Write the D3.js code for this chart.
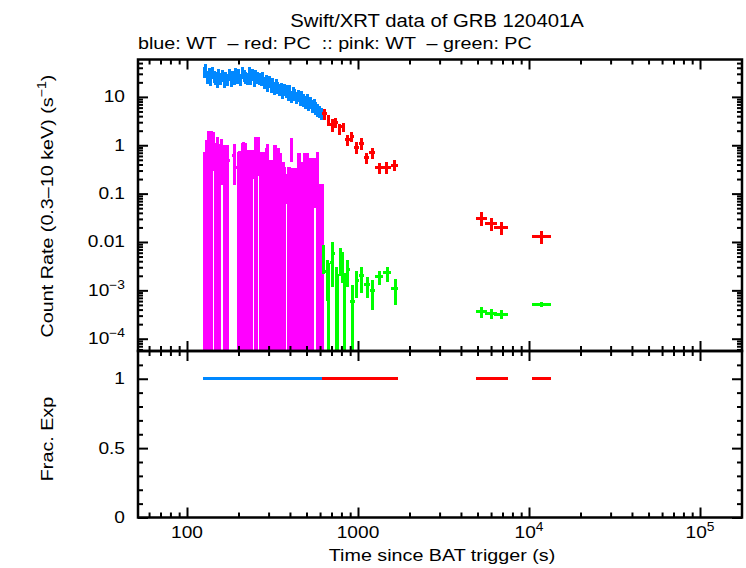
<!DOCTYPE html>
<html>
<head>
<meta charset="utf-8">
<script src="https://cdn.jsdelivr.net/npm/d3@7"></script>
<style>
  body { margin: 0; background: #fff; }
  svg { display: block; }
  text { font-family: "Liberation Sans", Arial, Helvetica, sans-serif; fill: #000; }
</style>
</head>
<body>
<div id="chart"></div>
<script>
// ---- data ----
// blue: WT count rates
var wtTimes = [126,129,132,135,138,141,144,147,150,153,157,161,165,169,173,177,181,185,189,193,
  197,201,206,211,216,221,226,231,236,241,247,253,259,265,271,277,283,290,297,304,
  311,318,325,332,340,348,356,364,372,381,390,399,408,418,428,438,448,459,470,481,
  492,504,516,528,541,554,567,581,595,610];
var wtRates = [33,37,26,31,23,32,27,25,21,30, 24,28,21,26,23,30,22,27,25,31,
  26,29,23,32,28,26,24,32,25,29, 22,28,26,24,23,25,20,22,18,21,
  17,19,15.5,18,16,14.5,15.5,12.5,14.5,13.5, 11.5,13.5,10.5,12.5,11.5,9.8,10.8,9.2,10.2,8.8,
  8,8.8,7,7.8,6.6,7.2,6,5.5,5.0,4.6];
var wtErrs = [9,10,7.5,8.5,6.5,9,7.5,7,6,8.5, 6.8,7.8,6,7.3,6.5,8.3,6.2,7.5,7,8.6,
  7.3,8,6.5,8.8,7.8,7.3,6.8,8.8,7,8, 6.2,7.8,7.3,6.7,6.5,7,5.6,6.2,5.1,5.9,
  4.8,5.3,4.4,5,4.5,4.1,4.3,3.5,4.1,3.8, 3.2,3.8,3,3.5,3.2,2.8,3,2.6,2.9,2.5,
  2.3,2.5,2,2.2,1.9,2,1.7,1.6,1.4,1.3];
var wtStart = 124, wtEnd = 620;

// red: PC  [t, tStart, tEnd, rate, err]
var pcRows = [
  [640, 620, 660, 4.5, 1.2], [675, 660, 690, 3.4, 0.9], [705, 690, 722, 2.7, 0.8],
  [740, 722, 760, 3.0, 0.7], [780, 760, 800, 2.2, 0.6], [820, 800, 845, 2.4, 0.5],
  [870, 845, 895, 1.3, 0.35], [920, 895, 950, 1.5, 0.35], [985, 950, 1020, 0.9, 0.25],
  [1055, 1020, 1090, 1.1, 0.3], [1125, 1090, 1165, 0.55, 0.15], [1215, 1165, 1265, 0.7, 0.17],
  [1330, 1265, 1400, 0.34, 0.09], [1475, 1400, 1560, 0.35, 0.09], [1630, 1560, 1720, 0.39, 0.1],
  [5240, 4900, 5680, 0.031, 0.010], [6000, 5530, 6500, 0.024, 0.007],
  [6860, 6240, 7540, 0.020, 0.006], [11800, 10400, 13450, 0.0132, 0.004]
];

// pink: WT  [t, rate, err]
var wtBgRows = [
  [127,.34,.38],[130,.60,.67],[133,.92,1.04],[136,.78,.82],[139,.92,1.04],[143,1.10,.80],
  [147,.52,.58],[151,.70,.77],[155,.50,.55],[160,.75,.60],[165,.48,.52],[169,.42,.50],[173,.48,.52],
  [190,.60,.45],[199,.34,.38],[203,.36,.40],[207,.33,.37],[211,.52,.60],[215,.54,.61],[219,.52,.60],
  [223,.38,.41],[228,.37,.42],[233,.39,.40],[238,.37,.42],[245,.50,.30],[251,.68,.79],[255,.70,.77],
  [262,.85,.62],[268,.35,.37],[273,.34,.38],[279,.36,.36],[285,.33,.39],[290,.40,.47],[296,.60,.45],
  [302,.24,.26],[309,.23,.27],[316,.25,.25],[323,.48,.52],[330,.46,.54],[337,.40,.47],[344,.42,.45],
  [351,.40,.30],[358,.21,.24],[366,.20,.25],[374,.17,.19],[384,.16,.10],[392,.17,.19],[400,.18,.18],
  [410,.93,.47],[415,.17,.17],[430,.16,.18],[440,.17,.17],[450,.33,.35],[456,.32,.36],[474,.21,.24],
  [480,.22,.23],[488,.33,.35],[496,.32,.36],[505,.30,.38],[514,.26,.29],[524,.27,.28],[534,.25,.30],
  [544,.26,.29],[556,.28,.17],[565,.30,.25],[580,.34,.38],[588,.08,.08],[598,.07,.09],[608,.08,.08],
  [618,.07,.09]
];

// green: PC  [t, tStart, tEnd, rate, err]
var pcBgRows = [
  [632, 620, 645, 0.0054, 0.0032], [659, 645, 664, 0.0024, 0.0018], [668, 664, 686, 0.0014, 0.0022],
  [705, 686, 710, 0.0037, 0.0025], [714, 710, 729, 0.0058, 0.0040], [744, 729, 749, 0.0014, 0.0016],
  [754, 749, 774, 0.00095, 0.0012], [795, 774, 806, 0.0047, 0.0027], [817, 806, 828, 0.0038, 0.0024],
  [839, 828, 851, 0.0011, 0.0012], [863, 851, 893, 0.0027, 0.0015], [923, 893, 955, 0.00059, 0.0007],
  [986, 955, 1020, 0.0016, 0.0009], [1055, 1020, 1090, 0.0020, 0.0011], [1129, 1090, 1168, 0.0013, 0.0006],
  [1208, 1168, 1265, 0.0010, 0.0006], [1327, 1265, 1400, 0.0019, 0.0006], [1478, 1400, 1560, 0.0023, 0.0008],
  [1646, 1560, 1720, 0.0011, 0.0006],
  [5240, 4900, 5680, 0.00036, 0.00009], [6000, 5530, 6500, 0.00034, 0.00008],
  [6860, 6240, 7540, 0.00032, 0.00007], [11800, 10400, 13450, 0.00051, 0.00006]
];

var xTicks = [100, 1000, 1e4, 1e5];
var xTickLabels = ["100", "1000", "10^4", "10^5"];
var yTicks = [10, 1, 0.1, 0.01, 1e-3, 1e-4];
var yTickLabels = ["10", "1", "0.1", "0.01", "10^\u22123", "10^\u22124"];
var fracTicks = [0, 0.5, 1];
var fracTickLabels = ["0", "0.5", "1"];

// ---- layout ----
var svgWidth = 746, svgHeight = 568;
var left = 138, right = 742, top1 = 59.5, mid = 351, bottom = 517.5;
var SX = 1.16; // horizontal stretch of the text to match the wide font

var svg = d3.select("#chart").append("svg")
  .attr("width", svgWidth).attr("height", svgHeight);

var x = d3.scaleLog().domain([51.7, 176000]).range([left, right]);
var yRate = d3.scaleLog().domain([5.57e-5, 59.3]).range([mid, top1]);
var yFrac = d3.scaleLinear().domain([0, 1.2]).range([bottom, mid]);

var colors = { wt: "#0088ff", pc: "#ff0000", wtBg: "#ff00ff", pcBg: "#00ff00" };

svg.append("clipPath").attr("id", "clipTop")
  .append("rect").attr("x", left).attr("y", top1).attr("width", right - left).attr("height", mid - top1);
svg.append("clipPath").attr("id", "clipBot")
  .append("rect").attr("x", left).attr("y", mid).attr("width", right - left).attr("height", bottom - mid);

var topG = svg.append("g").attr("clip-path", "url(#clipTop)");
var botG = svg.append("g").attr("clip-path", "url(#clipBot)");

// turn rows into point objects
function binsFromTimes(times, start, end) {
  return times.map(function(t, i) {
    var lo = i === 0 ? start : Math.sqrt(times[i - 1] * t);
    var hi = i === times.length - 1 ? end : Math.sqrt(times[i + 1] * t);
    return { lo: lo, hi: hi };
  });
}
var wtBins = binsFromTimes(wtTimes, wtStart, wtEnd);
var wtPts = wtTimes.map(function(t, i) {
  return { t: t, lo: wtBins[i].lo, hi: wtBins[i].hi, r: wtRates[i], e: wtErrs[i] };
});
var pcPts = pcRows.map(function(d) { return { t: d[0], lo: d[1], hi: d[2], r: d[3], e: d[4] }; });
var pcBgPts = pcBgRows.map(function(d) { return { t: d[0], lo: d[1], hi: d[2], r: d[3], e: d[4] }; });
var bgTimes = wtBgRows.map(function(d) { return d[0]; });
var bgBins = binsFromTimes(bgTimes, 125, 622);
var wtBgPts = wtBgRows.map(function(d, i) {
  return { t: d[0], lo: Math.max(bgBins[i].lo, d[0] / 1.03), hi: Math.min(bgBins[i].hi, d[0] * 1.03), r: d[1], e: d[2] };
});

function drawErr(g, pts, color, width) {
  var grp = g.append("g").attr("stroke", color).attr("stroke-width", width)
    .attr("shape-rendering", "crispEdges");
  var yMin = yRate.domain()[0];
  grp.selectAll("line.v").data(pts).enter().append("line")
    .attr("x1", d => x(d.t)).attr("x2", d => x(d.t))
    .attr("y1", d => yRate(d.r + d.e))
    .attr("y2", d => (d.r - d.e) > yMin ? yRate(d.r - d.e) : mid + 5);
  grp.selectAll("line.h").data(pts).enter().append("line")
    .attr("x1", d => x(d.lo)).attr("x2", d => x(d.hi))
    .attr("y1", d => yRate(d.r)).attr("y2", d => yRate(d.r));
}

drawErr(topG, wtPts, colors.wt, 3);
drawErr(topG, wtBgPts, colors.wtBg, 3);
drawErr(topG, pcPts, colors.pc, 3);
drawErr(topG, pcBgPts, colors.pcBg, 3);

// fractional exposure (all 1)
function drawFrac(pts, color) {
  botG.append("g").attr("stroke", color).attr("stroke-width", 3)
    .attr("shape-rendering", "crispEdges")
    .selectAll("line").data(pts).enter().append("line")
    .attr("x1", d => x(d.lo)).attr("x2", d => x(d.hi))
    .attr("y1", yFrac(1)).attr("y2", yFrac(1));
}
drawFrac(wtPts, colors.wt);
drawFrac(pcPts, colors.pc);

// ---- ticks ----
function isDecade(v) { var l = Math.log10(v); return Math.abs(l - Math.round(l)) < 1e-6; }
var xMinor = x.ticks().filter(v => !isDecade(v));
var yMinor = yRate.ticks().filter(v => !isDecade(v));
var fracMinor = yFrac.ticks(12).filter(v => fracTicks.indexOf(+v.toFixed(2)) < 0 && v < 1.19);

function ticks(axisFn, scale, tx, ty, vals, len) {
  svg.append("g").attr("transform", "translate(" + tx + "," + ty + ")")
    .call(axisFn(scale).tickValues(vals).tickSize(-len).tickFormat(""))
    .call(g => g.select(".domain").remove())
    .call(g => g.selectAll("line").attr("stroke", "#000").attr("stroke-width", 2));
}
[[d3.axisBottom, mid], [d3.axisTop, top1], [d3.axisTop, mid], [d3.axisBottom, bottom]].forEach(function(a) {
  ticks(a[0], x, 0, a[1], xTicks, 10);
  ticks(a[0], x, 0, a[1], xMinor, 5);
});
ticks(d3.axisLeft, yRate, left, 0, yTicks, 10);
ticks(d3.axisLeft, yRate, left, 0, yMinor, 5);
ticks(d3.axisRight, yRate, right, 0, yTicks, 10);
ticks(d3.axisRight, yRate, right, 0, yMinor, 5);
ticks(d3.axisLeft, yFrac, left, 0, fracTicks, 10);
ticks(d3.axisLeft, yFrac, left, 0, fracMinor, 5);
ticks(d3.axisRight, yFrac, right, 0, fracTicks, 10);
ticks(d3.axisRight, yFrac, right, 0, fracMinor, 5);

// frames
[[top1, mid], [mid, bottom]].forEach(function(p) {
  svg.append("rect").attr("x", left).attr("y", p[0]).attr("width", right - left).attr("height", p[1] - p[0])
    .attr("fill", "none").attr("stroke", "#000").attr("stroke-width", 2.5);
});

// ---- text ----
function label(x0, y0, str, anchor, size, rot) {
  var g = svg.append("g").attr("transform",
    "translate(" + x0 + "," + y0 + ")" + (rot ? " rotate(" + rot + ")" : "") + " scale(" + SX + ",1)");
  var t = g.append("text").attr("text-anchor", anchor).attr("font-size", size).style("white-space", "pre");
  // "^" starts a superscript, "_" ends it
  var parts = str.split(/(\^[^_]*)/);
  var up = false;
  parts.forEach(function(p) {
    if (!p) return;
    var s = t.append("tspan");
    if (p[0] === "^") {
      s.text(p.slice(1)).attr("font-size", size * 0.72).attr("dy", -0.42 * size);
      up = true;
    } else {
      s.text(p.replace(/^_/, ""));
      if (up) { s.attr("dy", 0.42 * size); up = false; }
    }
  });
  return t;
}

xTicks.forEach(function(v, i) { label(x(v), 538, xTickLabels[i], "middle", 16.5); });
yTicks.forEach(function(v, i) { label(125, yRate(v) + 5.5, yTickLabels[i], "end", 16.5); });
fracTicks.forEach(function(v, i) { label(125, yFrac(v) + 5.5, fracTickLabels[i], "end", 16.5); });

label(437, 27, "Swift/XRT data of GRB 120401A", "middle", 17.5);
label(138, 49, "blue: WT  \u2013 red: PC  :: pink: WT  \u2013 green: PC", "start", 17);
label(442, 561, "Time since BAT trigger (s)", "middle", 17);
label(53, 206, "Count Rate (0.3\u201310 keV) (s^\u22121_)", "middle", 17, -90);
label(53, 439, "Frac. Exp", "middle", 17, -90);
</script>
</body>
</html>
